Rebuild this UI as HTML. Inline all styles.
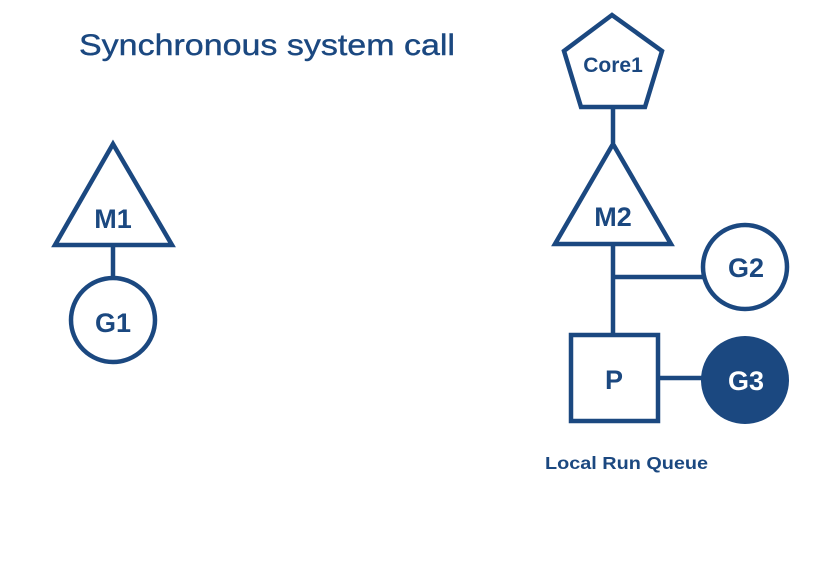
<!DOCTYPE html>
<html><head><meta charset="utf-8"><style>
html,body{margin:0;padding:0;background:#fff;}
svg{display:block;}
text{font-family:"Liberation Sans",Arial,sans-serif;fill:#1b4880;}
</style></head><body>
<svg width="822" height="572" viewBox="0 0 822 572" xmlns="http://www.w3.org/2000/svg">
<g stroke="#1b4880" stroke-width="4.5" fill="none">
<text x="79" y="55" font-size="30" stroke="#1b4880" stroke-width="0.4" textLength="376" lengthAdjust="spacingAndGlyphs">Synchronous system call</text>
<polygon points="113,144 55,245 172,245" fill="#fff"/>
<line x1="113" y1="245" x2="113" y2="276"/>
<circle cx="113" cy="320" r="42" fill="#fff"/>
<polygon points="612,15 564,51 581,107 645,107 662,51" fill="#fff"/>
<line x1="613" y1="107" x2="613" y2="143"/>
<polygon points="613,144 555,244 671,244" fill="#fff"/>
<line x1="613" y1="244" x2="613" y2="335"/>
<line x1="613" y1="277" x2="704" y2="277"/>
<circle cx="745" cy="267" r="42" fill="#fff"/>
<rect x="571" y="335" width="87" height="86" fill="#fff"/>
<line x1="658" y1="378" x2="702" y2="378"/>
<circle cx="745" cy="380" r="44" fill="#1b4880" stroke="none"/>
</g>
<g font-weight="bold" text-anchor="middle">
<text x="113" y="228" font-size="27">M1</text>
<text x="113" y="332" font-size="27">G1</text>
<text x="613" y="72" font-size="21">Core1</text>
<text x="613" y="226" font-size="27">M2</text>
<text x="746" y="277" font-size="27">G2</text>
<text x="614" y="389" font-size="27">P</text>
<text x="746" y="390" font-size="27" style="fill:#fff">G3</text>
</g>
<text x="545" y="469" font-size="17.5" font-weight="bold" textLength="163" lengthAdjust="spacingAndGlyphs">Local Run Queue</text>
</svg>
</body></html>
